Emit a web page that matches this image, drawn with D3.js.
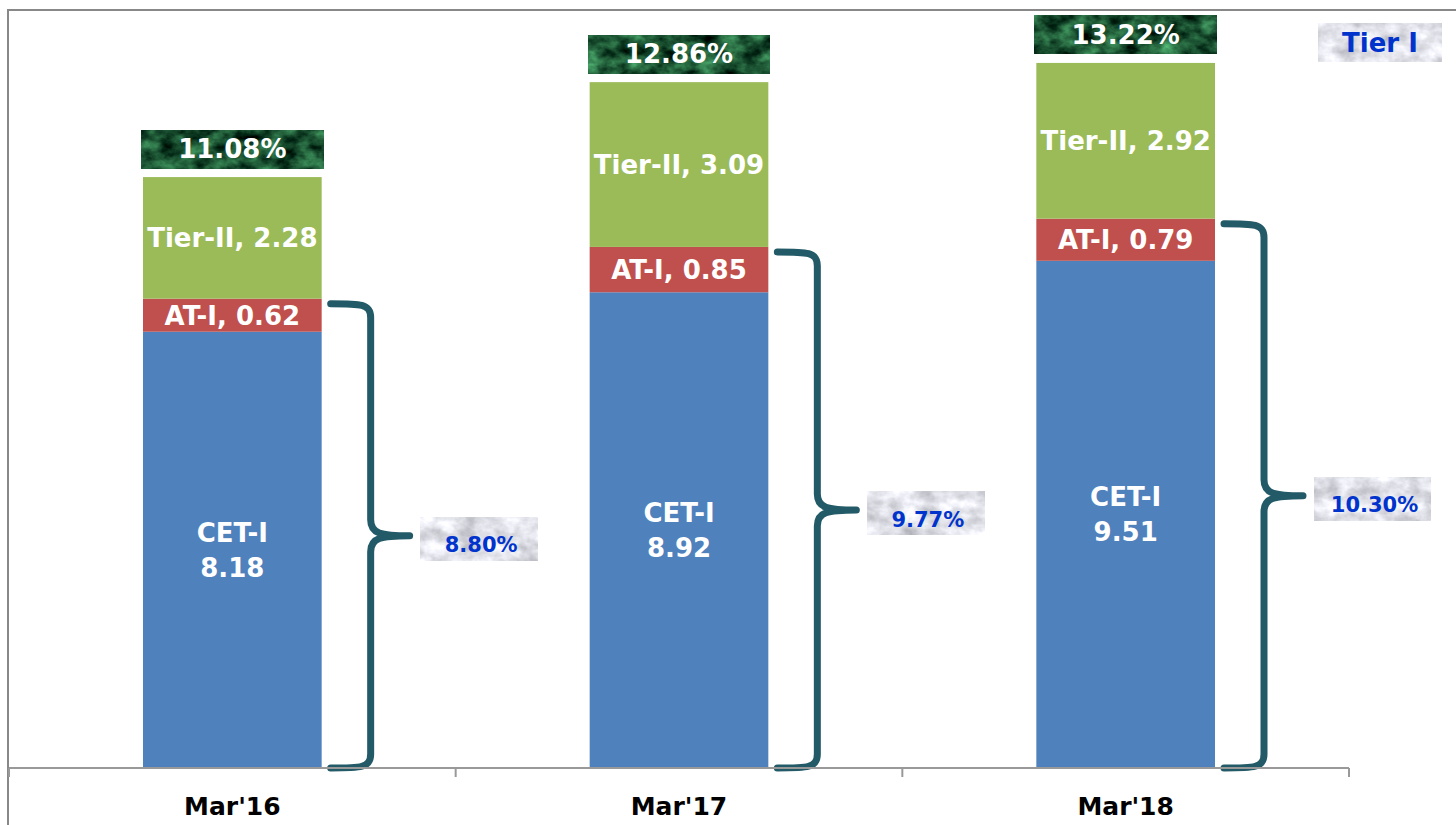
<!DOCTYPE html>
<html>
<head>
<meta charset="utf-8">
<script src="https://cdn.jsdelivr.net/npm/d3@7"></script>
<style>
  body { margin: 0; background: #fff; }
  text { font-family: "DejaVu Sans", sans-serif; font-weight: bold; }
</style>
</head>
<body>
<div class="chart"></div>
<script>
// data
const periods = ["Mar'16", "Mar'17", "Mar'18"];
const cet = [8.18, 8.92, 9.51];
const at1 = [0.62, 0.85, 0.79];
const tier2 = [2.28, 3.09, 2.92];
const totals = ['11.08%', '12.86%', '13.22%'];
const tier1 = ['8.80%', '9.77%', '10.30%'];

const width = 1456;
const height = 825;

const svg = d3.select('.chart').append('svg')
.attr('width', width)
.attr('height', height);

// textures for the label boxes
const defs = svg.append('defs');
function noiseFilter(id, seed, rows) {
  const f = defs.append('filter').attr('id', id)
  .attr('color-interpolation-filters', 'sRGB')
  .attr('x', 0).attr('y', 0).attr('width', 1).attr('height', 1);
  f.append('feTurbulence')
  .attr('type', 'fractalNoise')
  .attr('baseFrequency', '0.05 0.07')
  .attr('numOctaves', 4)
  .attr('seed', seed);
  f.append('feColorMatrix').attr('type', 'matrix').attr('values', rows);
}
noiseFilter('greenTex', 7,
  '0.5 0 0 0 -0.14  0.9 0 0 0 -0.12  0.6 0 0 0 -0.1  0 0 0 0 1');
noiseFilter('grayTex', 3,
  '0.45 0 0 0 0.66  0.45 0 0 0 0.66  0.45 0 0 0 0.69  0 0 0 0 1');

// frame
svg.append('path')
.attr('d', `M8,${height} V10 H${width}`)
.attr('fill', 'none')
.attr('stroke', '#888')
.attr('stroke-width', 2);

const x = d3.scaleBand()
.domain(periods)
.range([9, 1349]);

const y = d3.scaleLinear()
.domain([0, 14.4])
.range([768, 0]);

const barW = x.bandwidth() * 0.4;
const colors = ['#4f81bd', '#c0504d', '#9bbb59'];

const rows = periods.map(function(p, i) {
  return { period: p, cet: cet[i], at1: at1[i], tier2: tier2[i] };
});
const stack = d3.stack().keys(['cet', 'at1', 'tier2'])(rows);

// bars
stack.forEach(function(layer, k) {
  svg.append('g').selectAll('rect')
  .data(layer)
  .enter().append('rect')
  .attr('x', d => x(d.data.period) + (x.bandwidth() - barW) / 2)
  .attr('width', barW)
  .attr('y', d => y(d[1]))
  .attr('height', d => y(d[0]) - y(d[1]))
  .attr('fill', colors[k]);
});

// labels inside bars
rows.forEach(function(r, i) {
  const cx = x(r.period) + x.bandwidth() / 2;
  const cetMid = (y(0) + y(r.cet)) / 2;
  svg.append('text').attr('x', cx).attr('y', cetMid - 8)
  .attr('text-anchor', 'middle').attr('fill', '#fff').attr('font-size', 26)
  .text('CET-I');
  svg.append('text').attr('x', cx).attr('y', cetMid + 27)
  .attr('text-anchor', 'middle').attr('fill', '#fff').attr('font-size', 26)
  .text(r.cet.toFixed(2));

  const atMid = (y(r.cet) + y(r.cet + r.at1)) / 2;
  svg.append('text').attr('x', cx).attr('y', atMid).attr('dy', '0.36em')
  .attr('text-anchor', 'middle').attr('fill', '#fff').attr('font-size', 26)
  .text('AT-I, ' + r.at1.toFixed(2));

  const top = r.cet + r.at1 + r.tier2;
  const t2Mid = (y(r.cet + r.at1) + y(top)) / 2;
  svg.append('text').attr('x', cx).attr('y', t2Mid).attr('dy', '0.36em')
  .attr('text-anchor', 'middle').attr('fill', '#fff').attr('font-size', 26)
  .text('Tier-II, ' + r.tier2.toFixed(2));

  // total box on top
  const bw = 182, bh = 38;
  svg.append('rect')
  .attr('x', cx - bw / 2).attr('y', y(top) - 9 - bh)
  .attr('width', bw).attr('height', bh)
  .attr('filter', 'url(#greenTex)');
  svg.append('text').attr('x', cx).attr('y', y(top) - 9 - bh / 2).attr('dy', '0.36em')
  .attr('text-anchor', 'middle').attr('fill', '#fff').attr('font-size', 26)
  .text(totals[i]);

  // curly brace for Tier I
  const right = cx + barW / 2;
  const x0 = right + 9;
  const xv = right + 49;
  const xt = right + 88;
  const yt = y(r.cet + r.at1) + 5;
  const yb = y(0);
  const ym = (yt + yb) / 2;
  const brace = `M${x0},${yt} C${xv - 10},${yt} ${xv},${yt} ${xv},${yt + 14}`
    + ` V${ym - 16} C${xv},${ym - 2} ${xv + 10},${ym} ${xt},${ym}`
    + ` M${xt},${ym} C${xv + 10},${ym} ${xv},${ym + 2} ${xv},${ym + 16}`
    + ` V${yb - 14} C${xv},${yb} ${xv - 10},${yb} ${x0},${yb}`;
  svg.append('path')
  .attr('d', brace)
  .attr('fill', 'none')
  .attr('stroke', '#235a68')
  .attr('stroke-width', 7)
  .attr('stroke-linecap', 'round');

  const pw = 117, ph = 43;
  svg.append('rect')
  .attr('x', xt + 11).attr('y', ym - ph / 2 + 3)
  .attr('width', pw).attr('height', ph)
  .attr('filter', 'url(#grayTex)');
  svg.append('text').attr('x', xt + 11 + pw / 2 + 2).attr('y', ym + 9)
  .attr('dy', '0.36em')
  .attr('text-anchor', 'middle').attr('fill', '#0033cc').attr('font-size', 21)
  .text(tier1[i]);
});

// x axis
const axis = svg.append('g')
.attr('transform', 'translate(0,768)');
axis.append('line')
.attr('x1', 9).attr('x2', 1349)
.attr('stroke', '#999').attr('stroke-width', 2);
axis.selectAll('.tick')
.data(periods.concat(['end']))
.enter().append('line')
.attr('x1', (d, i) => i < periods.length ? x(d) : x.range()[1])
.attr('x2', (d, i) => i < periods.length ? x(d) : x.range()[1])
.attr('y1', 0).attr('y2', 9)
.attr('stroke', '#999').attr('stroke-width', 2);
axis.selectAll('.lbl')
.data(periods)
.enter().append('text')
.attr('x', d => x(d) + x.bandwidth() / 2)
.attr('y', 47)
.attr('text-anchor', 'middle')
.attr('fill', '#000')
.attr('font-size', 25)
.text(d => d);

// legend
svg.append('rect')
.attr('x', 1318).attr('y', 23).attr('width', 124).attr('height', 39)
.attr('filter', 'url(#grayTex)');
svg.append('text')
.attr('x', 1380).attr('y', 43).attr('dy', '0.36em')
.attr('text-anchor', 'middle').attr('fill', '#0033cc').attr('font-size', 26)
.text('Tier I');
</script>
</body>
</html>
